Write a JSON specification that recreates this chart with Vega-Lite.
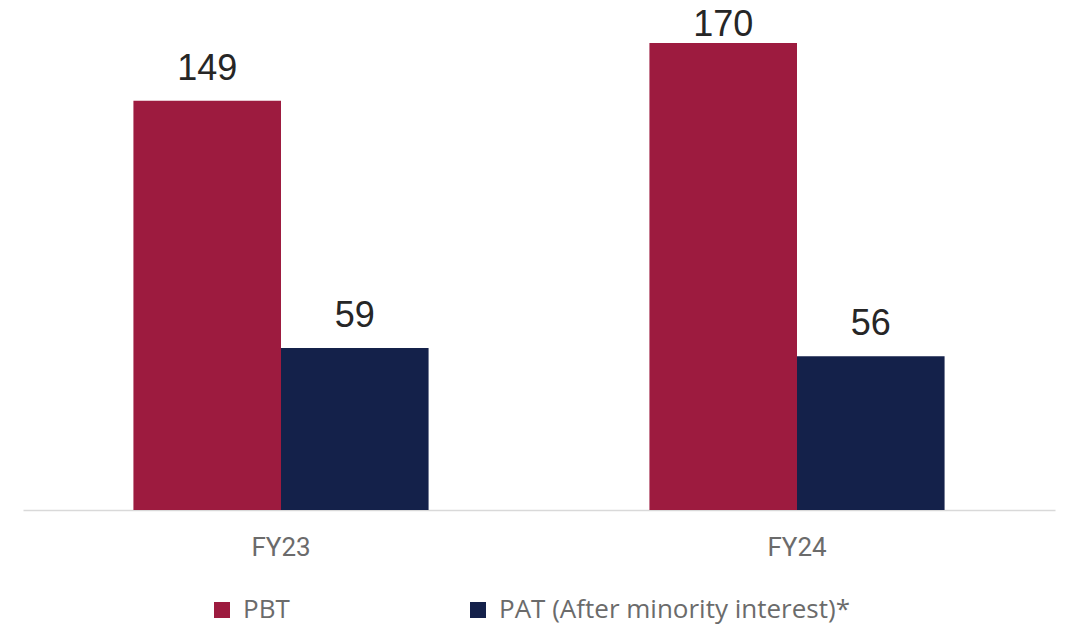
{
  "$schema": "https://vega.github.io/schema/vega-lite/v6.json",
  "autosize": {"type": "none"},
  "padding": {"left": 23, "top": 0, "right": 11, "bottom": 117},
  "width": 1032,
  "height": 510,
  "background": "white",
  "config": {"view": {"stroke": null}},
  "data": {
    "values": [
      {"year": "FY23", "series": "PBT", "value": 149},
      {"year": "FY23", "series": "PAT (After minority interest)*", "value": 59},
      {"year": "FY24", "series": "PBT", "value": 170},
      {"year": "FY24", "series": "PAT (After minority interest)*", "value": 56}
    ]
  },
  "encoding": {
    "x": {
      "field": "year", "type": "nominal",
      "scale": {"paddingInner": 0.428, "paddingOuter": 0.214},
      "axis": {
        "title": null, "labelAngle": 0, "ticks": false,
        "domainColor": "#d9d9d9", "domainWidth": 1.5,
        "labelFont": "Roboto", "labelFontSize": 26, "labelColor": "#6b6b6b",
        "labelPadding": 24
      }
    },
    "xOffset": {
      "field": "series", "type": "nominal",
      "scale": {"domain": ["PBT", "PAT (After minority interest)*"], "paddingInner": 0, "paddingOuter": 0}
    }
  },
  "layer": [
    {
      "mark": {"type": "bar"},
      "encoding": {
        "y": {
          "field": "value", "type": "quantitative",
          "scale": {"domain": [0, 185.65], "nice": false, "zero": true},
          "axis": null
        },
        "color": {
          "field": "series", "type": "nominal",
          "scale": {"domain": ["PBT", "PAT (After minority interest)*"], "range": ["#9D1B3F", "#14214A"]},
          "legend": {
            "title": null, "orient": "none", "direction": "horizontal",
            "legendX": 186, "legendY": 597, "padding": 0,
            "symbolType": "square", "symbolSize": 256, "symbolStrokeWidth": 0,
            "labelFont": "Open Sans", "labelFontSize": 26, "labelColor": "#6b6b6b",
            "labelOffset": 8, "columnPadding": 175, "labelLimit": 500
          }
        }
      }
    },
    {
      "transform": [{"calculate": "min(datum.value, 165)", "as": "labelY"}],
      "mark": {
        "type": "text", "baseline": "alphabetic", "dy": -21,
        "font": "Liberation Sans", "fontSize": 36, "color": "#262626"
      },
      "encoding": {
        "y": {"field": "labelY", "type": "quantitative", "scale": {"domain": [0, 185.65], "nice": false}},
        "text": {"field": "value", "type": "quantitative"}
      }
    }
  ]
}
